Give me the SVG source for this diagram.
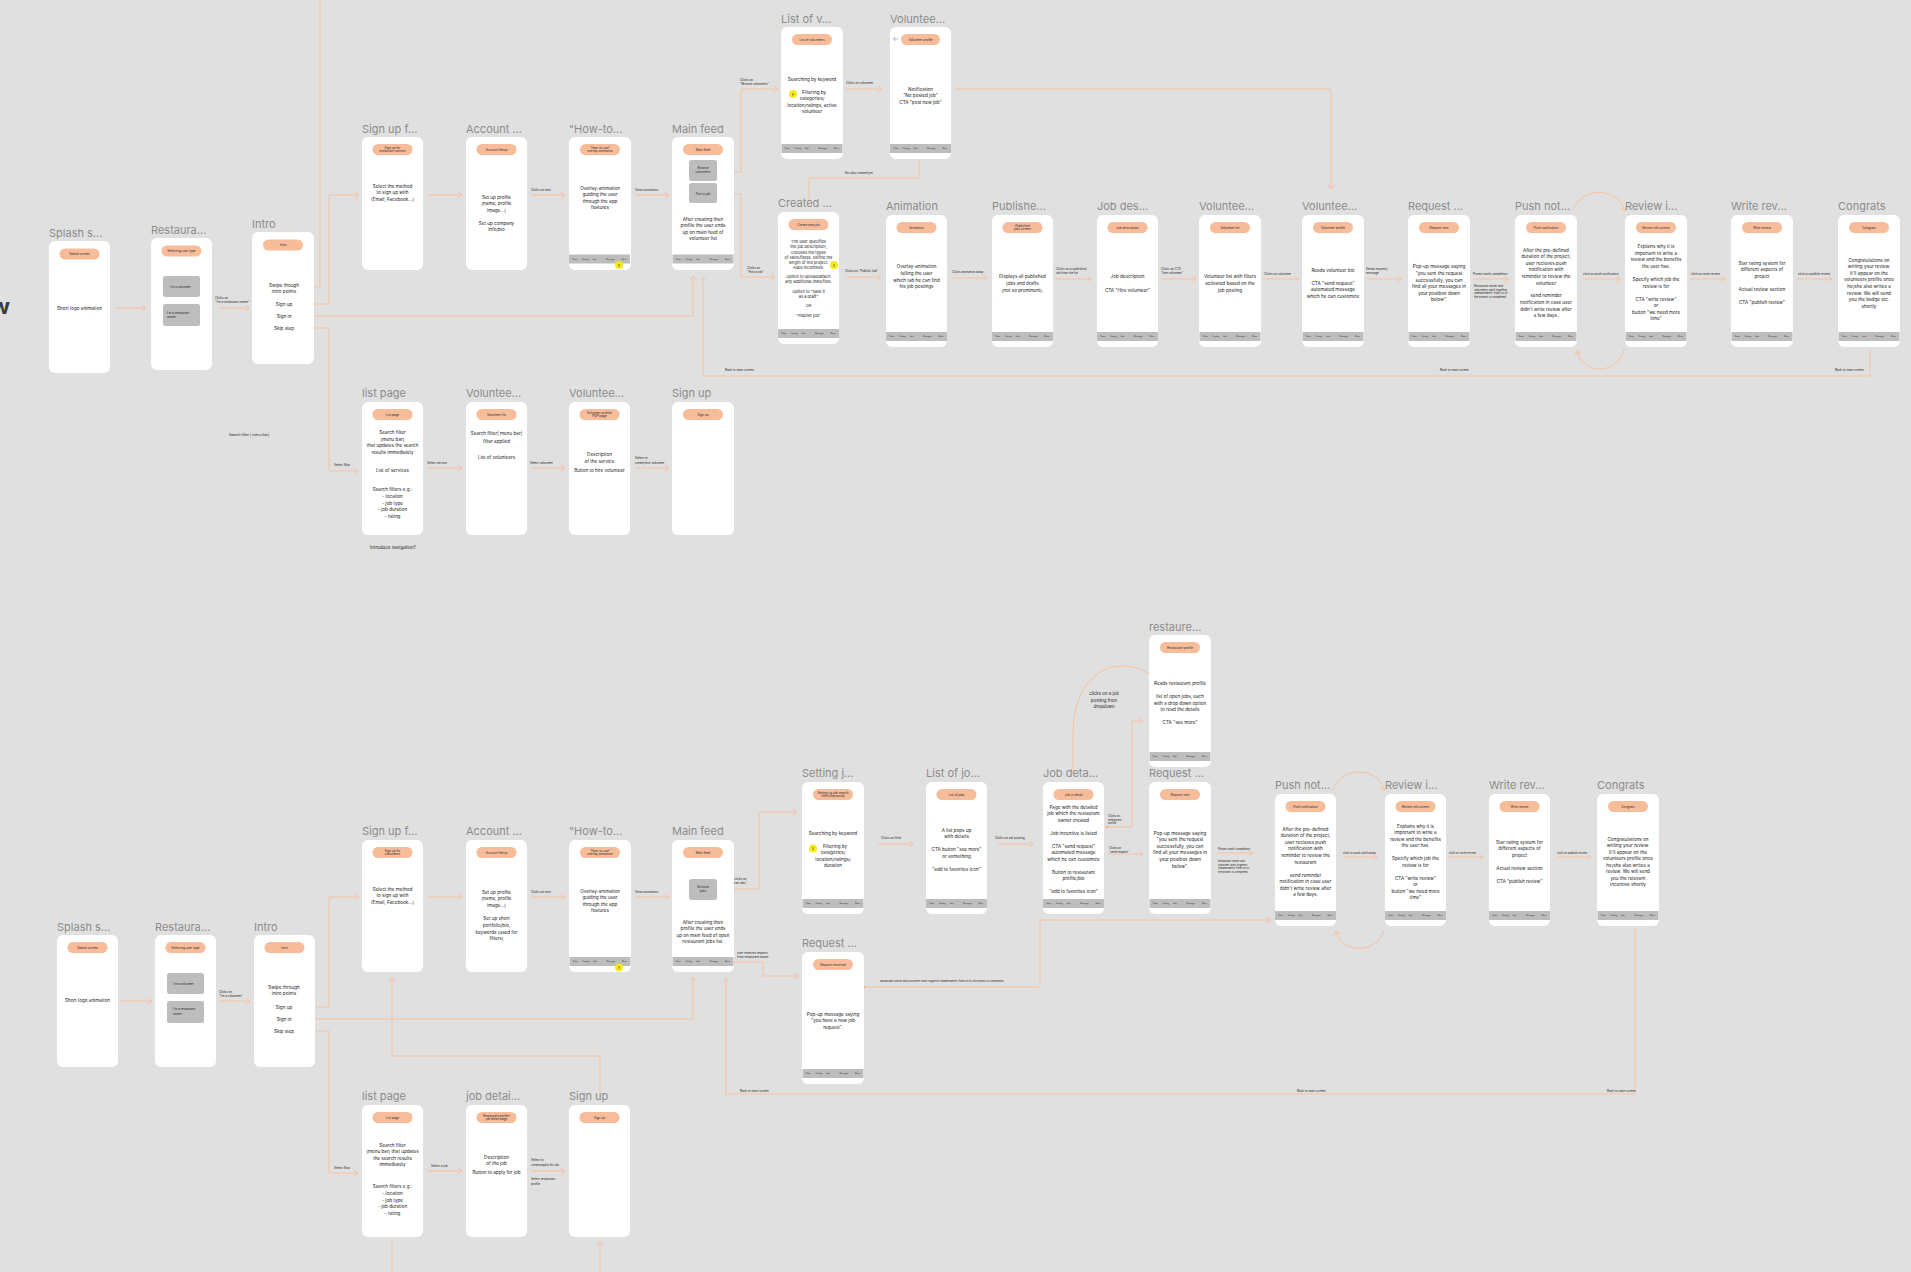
<svg xmlns="http://www.w3.org/2000/svg" xmlns:xlink="http://www.w3.org/1999/xlink" width="1911" height="1272" viewBox="0 0 1911 1272">
<style>
text{font-family:Inter,"Liberation Sans",sans-serif}
.t{font-size:11px;fill:#8c8c8c}
.card{fill:#fff}
.pill{fill:#f7bc99}
.pt{font-size:3.1px;text-anchor:middle;fill:#2a2a2a}
.b{font-size:4.6px;text-anchor:middle;fill:#1a1a1a}
.bs{font-size:4px;text-anchor:middle;fill:#1a1a1a}
.btn{fill:#bdbdbd}
.bt{font-size:3px;fill:#222}
.nav{fill:#bdbdbd}
.nt{font-size:1.8px;fill:#333}
.c{stroke:#f6c2a1;stroke-width:1;fill:none}
.cm{marker-end:url(#ah)}
.dot{fill:#f6b58e}
.l{font-size:3px;fill:#222}
.warn{fill:#f3e91c}
.wt{font-size:4px;font-weight:bold;text-anchor:middle;fill:#333}
</style>
<defs>
<marker id="ah" markerUnits="userSpaceOnUse" markerWidth="6" markerHeight="8" refX="4.5" refY="3.5" orient="auto">
<path d="M0.5,0.5 L4.5,3.5 L0.5,6.5" fill="none" stroke="#f6c2a1" stroke-width="1"/>
</marker>
<g id="navbar">
<rect class="nav" x="0" y="0" width="61" height="9"/>
<text class="nt" x="3" y="5.3">Talent</text>
<text class="nt" x="13" y="5.3">Catalog</text>
<text class="nt" x="23.5" y="5.3">Jobs</text>
<text class="nt" x="37" y="5.3">Messages</text>
<text class="nt" x="52.5" y="5.3">Menu</text>
</g>
<g id="warn">
<circle class="warn" cx="0" cy="0" r="4"/>
<text class="wt" x="0" y="1.5">!</text>
</g>
</defs>

<rect x="0" y="0" width="1911" height="1272" fill="#e0e0e0"/>
<text x="10" y="314" text-anchor="end" style="font-size:22px;font-weight:bold;fill:#3a3a3a">w</text>

<!-- ===== connectors ===== -->
<g id="connectors">
<!-- restaurant owner flow -->
<path class="c cm" d="M114,308 H146"/>
<path class="c cm" d="M218,308 H249"/>
<path class="c" d="M298,287 H320 V0"/>
<path class="c cm" d="M298,304 H329 V195 H359"/>
<path class="c cm" d="M298,316 H693 V276"/>
<path class="c cm" d="M298,328 H329 V471 H358"/>
<path class="c cm" d="M428,195 H462"/>
<path class="c cm" d="M531,195 H565"/>
<path class="c cm" d="M635,195 H669"/>
<path class="c cm" d="M721,172 H741 V89 H778"/>
<path class="c cm" d="M721,194 H741 V277 H775"/>
<path class="c cm" d="M846,89 H882"/>
<path class="c cm" d="M955,89 H1331 V189"/>
<path class="c" d="M919,159 V178 H809 V199"/>
<path class="c cm" d="M846,277 H881"/>
<path class="c cm" d="M952,278 H987"/>
<path class="c cm" d="M1056,279 H1091"/>
<path class="c cm" d="M1161,279 H1196"/>
<path class="c cm" d="M1264,279 H1299"/>
<path class="c cm" d="M1367,279 H1402"/>
<path class="c cm" d="M1473,279 H1508"/>
<path class="c cm" d="M1583,279 H1620"/>
<path class="c cm" d="M1690,279 H1725"/>
<path class="c cm" d="M1797,279 H1832"/>
<path class="c cm" d="M1573,211 C1580,186 1618,186 1625,211"/>
<path class="c cm" d="M1624,350 C1618,375 1582,375 1577,351"/>
<path class="c cm" d="M1870,350 V376 H703 V277"/>
<path class="c cm" d="M427,468 H462"/>
<path class="c cm" d="M530,468 H565"/>
<path class="c cm" d="M634,468 H669"/>
<circle class="dot" cx="298" cy="287" r="1.6"/>
<circle class="dot" cx="298" cy="304" r="1.6"/>
<circle class="dot" cx="298" cy="316" r="1.6"/>
<circle class="dot" cx="298" cy="328" r="1.6"/>
<circle class="dot" cx="721" cy="172" r="1.6"/>
<circle class="dot" cx="721" cy="194" r="1.6"/>

<!-- volunteer flow -->
<path class="c cm" d="M121,1001 H152"/>
<path class="c cm" d="M219,1001 H250"/>
<path class="c cm" d="M298,1007 H329 V897 H359"/>
<path class="c cm" d="M298,1019 H693 V977"/>
<path class="c cm" d="M298,1031 H329 V1173 H358"/>
<path class="c cm" d="M428,897 H462"/>
<path class="c cm" d="M531,897 H565"/>
<path class="c cm" d="M635,897 H669"/>
<path class="c cm" d="M600,1092 V1056 H392 V977"/>
<path class="c" d="M392,1240 V1272"/>
<path class="c cm" d="M600,1272 V1241"/>
<path class="c cm" d="M427,1171 H462"/>
<path class="c cm" d="M531,1171 H565"/>
<path class="c cm" d="M721,889 H759 V812 H797"/>
<path class="c cm" d="M733,962 H763 V976 H798"/>
<path class="c cm" d="M864,987 H1040 V920 H1271"/>
<path class="c cm" d="M878,844 H913"/>
<path class="c cm" d="M998,844 H1033"/>
<path class="c cm" d="M1107,827 H1132 V721 H1143"/>
<path class="c cm" d="M1108,854 H1143"/>
<path class="c" d="M1073,773 V735 C1073,690 1095,666 1122,666 C1137,666 1148,672 1156,680"/>
<path class="c cm" d="M1218,853 H1253"/>
<path class="c cm" d="M1343,857 H1377"/>
<path class="c cm" d="M1449,857 H1483"/>
<path class="c cm" d="M1557,857 H1591"/>
<path class="c cm" d="M1333,790 C1340,766 1378,766 1384,790"/>
<path class="c cm" d="M1384,930 C1378,954 1340,954 1336,931"/>
<path class="c cm" d="M1635,928 V1094 H726 V978"/>
<circle class="dot" cx="298" cy="1007" r="1.6"/>
<circle class="dot" cx="298" cy="1019" r="1.6"/>
<circle class="dot" cx="298" cy="1031" r="1.6"/>
<circle class="dot" cx="721" cy="889" r="1.6"/>
<circle class="dot" cx="733" cy="962" r="1.6"/>
<circle class="dot" cx="864" cy="987" r="1.6"/>
<circle class="dot" cx="1107" cy="827" r="1.6"/>
</g>

<!-- ===== connector labels ===== -->
<g id="labels">
<text class="l" x="215" y="299">Clicks on<tspan x="215" dy="4">"I'm a restaurant owner"</tspan></text>
<text class="l" x="531" y="191">Clicks on next</text>
<text class="l" x="635" y="191">Views animation</text>
<text class="l" x="740" y="81">Clicks on<tspan x="740" dy="4">"Browse volunteers"</tspan></text>
<text class="l" x="846" y="84">Clicks on volunteer</text>
<text class="l" x="845" y="174">No jobs created yet</text>
<text class="l" x="747" y="269">Clicks on<tspan x="747" dy="4">"Post a job"</tspan></text>
<text class="l" x="845" y="272">Clicks on "Publish Job"</text>
<text class="l" x="952" y="273">Clicks animation away</text>
<text class="l" x="1056" y="270">Clicks on a published<tspan x="1056" dy="4">job from the list</tspan></text>
<text class="l" x="1161" y="270">Clicks on CTA<tspan x="1161" dy="4">"hire volunteer"</tspan></text>
<text class="l" x="1264" y="275">Clicks on volunteer</text>
<text class="l" x="1366" y="270">Sends request/<tspan x="1366" dy="4">message</tspan></text>
<text class="l" x="1473" y="275">Project work completion</text>
<text class="l" x="1474" y="287" style="font-size:2.8px">Restaurant owner and<tspan x="1474" dy="3.6">volunteers work together</tspan><tspan x="1474" dy="3.6">independently from us till</tspan><tspan x="1474" dy="3.6">the project is completed.</tspan></text>
<text class="l" x="1583" y="275">click on push notification</text>
<text class="l" x="1691" y="275">click on write review</text>
<text class="l" x="1798" y="275">click on publish review</text>
<text class="l" x="725" y="371">Back to main screen</text>
<text class="l" x="1440" y="371">Back to main screen</text>
<text class="l" x="1835" y="371">Back to main screen</text>
<text class="l" x="229" y="436" style="font-size:3.5px">Search filter | menu bar|</text>
<text class="l" x="334" y="466">Select Skip</text>
<text class="l" x="427" y="464">Select service</text>
<text class="l" x="530" y="464">Select volunteer</text>
<text class="l" x="635" y="459">Select to<tspan x="635" dy="4.5">create/hire volunteer</tspan></text>
<text class="l" x="393" y="549" text-anchor="middle" style="font-size:4.5px">Introduce navigation?</text>

<text class="l" x="219" y="993">Clicks on<tspan x="219" dy="4">"I'm a volunteer"</tspan></text>
<text class="l" x="531" y="893">Clicks on next</text>
<text class="l" x="635" y="893">Views animation</text>
<text class="l" x="727" y="880">user clicks on<tspan x="727" dy="4">"browse jobs"</tspan></text>
<text class="l" x="737" y="954">user receives request<tspan x="737" dy="4">from restaurant owner</tspan></text>
<text class="l" x="881" y="839">Clicks on filter</text>
<text class="l" x="995" y="839">Clicks on job posting</text>
<text class="l" x="1104" y="695" text-anchor="middle" style="font-size:4.4px">clicks on a job<tspan x="1104" dy="6.6">posting from</tspan><tspan x="1104" dy="6.6">dropdown</tspan></text>
<text class="l" x="1108" y="817" style="font-size:2.8px">Clicks on<tspan x="1108" dy="3.6">restaurant</tspan><tspan x="1108" dy="3.6">profile</tspan></text>
<text class="l" x="1109" y="849" style="font-size:2.8px">Clicks on<tspan x="1109" dy="3.6">"send request"</tspan></text>
<text class="l" x="1218" y="850" style="font-size:2.8px">Project work completion</text>
<text class="l" x="1218" y="862" style="font-size:2.6px">Restaurant owner and<tspan x="1218" dy="3.5">volunteer work together</tspan><tspan x="1218" dy="3.5">independently from us till</tspan><tspan x="1218" dy="3.5">the project is completed.</tspan></text>
<text class="l" x="1343" y="854" style="font-size:2.8px">click on push notification</text>
<text class="l" x="1449" y="854" style="font-size:2.8px">click on write review</text>
<text class="l" x="1557" y="854" style="font-size:2.8px">click on publish review</text>
<text class="l" x="880" y="982" style="font-size:2.7px">Restaurant owner and volunteer work together independently from us till the project is completed.</text>
<text class="l" x="740" y="1092">Back to main screen</text>
<text class="l" x="1297" y="1092">Back to main screen</text>
<text class="l" x="1607" y="1092">Back to main screen</text>
<text class="l" x="334" y="1169">Select Skip</text>
<text class="l" x="431" y="1167">Select a job</text>
<text class="l" x="531" y="1161">Select to<tspan x="531" dy="4.5">create/apply for job</tspan></text>
<text class="l" x="531" y="1180">Select restaurant<tspan x="531" dy="4.5">profile</tspan></text>
</g>

<!-- ===== restaurant owner screens ===== -->
<g id="splash-owner">
<rect class="card" x="49" y="241" width="61" height="132" rx="6"/>
<text class="t" x="49" y="237">Splash s...</text>
<rect class="pill" x="59.5" y="248.5" width="40" height="11" rx="5.5"/>
<text class="pt" x="79.5" y="255">Splash screen</text>
<text class="b" x="79.5" y="309.5">Short logo animation</text>
</g>
<g id="usertype-owner">
<rect class="card" x="151" y="238" width="61" height="132" rx="6"/>
<text class="t" x="151" y="234">Restaura...</text>
<rect class="pill" x="161.5" y="245.5" width="40" height="11" rx="5.5"/>
<text class="pt" x="181.5" y="252">Selecting user type</text>
<rect class="btn" x="163" y="276" width="37" height="21" rx="2.5"/>
<text class="bt" x="170" y="288">I'm a volunteer</text>
<rect class="btn" x="163" y="304" width="37" height="22" rx="2.5"/>
<text class="bt" x="167" y="313.5">I'm a restaurant<tspan x="167" dy="4">owner</tspan></text>
</g>
<g id="intro-owner">
<rect class="card" x="252" y="232" width="62" height="132" rx="6"/>
<text class="t" x="252" y="228">Intro</text>
<rect class="pill" x="263" y="239.5" width="40" height="11" rx="5.5"/>
<text class="pt" x="283" y="246">Intro</text>
<text class="b" x="284" y="286.5">Swipe though<tspan x="284" dy="6.3">intro points</tspan></text>
<text class="b" x="284" y="305.5">Sign up</text>
<text class="b" x="284" y="317.5">Sign in</text>
<text class="b" x="284" y="329.5">Skip step</text>
</g>
<g id="signup-owner">
<rect class="card" x="362" y="137" width="61" height="133" rx="6"/>
<text class="t" x="362" y="133">Sign up f...</text>
<rect class="pill" x="372.5" y="144" width="40" height="11" rx="5.5"/>
<text class="pt" x="392.5" y="149">Sign up for<tspan x="392.5" dy="3.4">restaurant owners</tspan></text>
<text class="b" x="392.5" y="187.5">Select the method<tspan x="392.5" dy="6.5">to sign up with</tspan><tspan x="392.5" dy="6.5">(Email, Facebook...)</tspan></text>
</g>
<g id="account-owner">
<rect class="card" x="466" y="137" width="61" height="133" rx="6"/>
<text class="t" x="466" y="133">Account ...</text>
<rect class="pill" x="476.5" y="144" width="40" height="11" rx="5.5"/>
<text class="pt" x="496.5" y="150.5">Account Setup</text>
<text class="b" x="496.5" y="198.5">Set up profile<tspan x="496.5" dy="6.5">(name, profile</tspan><tspan x="496.5" dy="6.5">image...)</tspan><tspan x="496.5" dy="13">Set up company</tspan><tspan x="496.5" dy="6.5">info/bio</tspan></text>
</g>
<g id="howto-owner">
<rect class="card" x="569" y="137" width="62" height="133" rx="6"/>
<text class="t" x="569" y="133">"How-to...</text>
<rect class="pill" x="580" y="144" width="40" height="11" rx="5.5"/>
<text class="pt" x="600" y="149">"How-to-use"<tspan x="600" dy="3.4">overlay animation</tspan></text>
<text class="b" x="600" y="189.5">Overlay-animation<tspan x="600" dy="6.5">guiding the user</tspan><tspan x="600" dy="6.5">through the app</tspan><tspan x="600" dy="6.5">features</tspan></text>
<use href="#navbar" x="569" y="254.5"/>
<use href="#warn" x="619" y="265"/>
</g>
<g id="mainfeed-owner">
<rect class="card" x="672" y="137" width="62" height="133" rx="6"/>
<text class="t" x="672" y="133">Main feed</text>
<rect class="pill" x="683" y="144" width="40" height="11" rx="5.5"/>
<text class="pt" x="703" y="150.5">Main feed</text>
<rect class="btn" x="689" y="160" width="28" height="21" rx="2.5"/>
<text class="pt" x="703" y="168.5">Browse<tspan x="703" dy="4">volunteers</tspan></text>
<rect class="btn" x="689" y="183" width="28" height="20" rx="2.5"/>
<text class="pt" x="703" y="194.5">Post a job</text>
<text class="b" x="703" y="220.5">After creating their<tspan x="703" dy="6.5">profile the user ends</tspan><tspan x="703" dy="6.5">up on main feed of</tspan><tspan x="703" dy="6.5">volunteer list</tspan></text>
<use href="#navbar" x="672.5" y="254.5"/>
</g>
<g id="volunteers-list-owner">
<rect class="card" x="781" y="27" width="62" height="132" rx="6"/>
<text class="t" x="781" y="23">List of v...</text>
<rect class="pill" x="792" y="34" width="40" height="11" rx="5.5"/>
<text class="pt" x="812" y="40.5">List of volunteers</text>
<text class="b" x="812" y="80.5">Searching by keyword</text>
<text class="b" x="814" y="93.5">Filtering by<tspan x="812" dy="6.5">categories/</tspan><tspan x="812" dy="6.5">location/ratings, active</tspan><tspan x="812" dy="6.5">volunteer</tspan></text>
<use href="#warn" x="793" y="94"/>
<use href="#navbar" x="781.5" y="144"/>
</g>
<g id="volunteer-profile-owner">
<rect class="card" x="890" y="27" width="61" height="132" rx="6"/>
<text class="t" x="890" y="23">Voluntee...</text>
<path d="M898,39 H893.5 M895.5,37 L893.5,39 L895.5,41" fill="none" stroke="#8878ee" stroke-width="0.6"/>
<rect class="pill" x="901" y="34" width="39" height="11" rx="5.5"/>
<text class="pt" x="920.5" y="40.5">Volunteer profile</text>
<text class="b" x="920.5" y="90.5">Notification<tspan x="920.5" dy="6.5">"No posted job"</tspan><tspan x="920.5" dy="6.5">CTA "post new job"</tspan></text>
<use href="#navbar" x="890" y="144"/>
</g>
<g id="create-job">
<rect class="card" x="778" y="212" width="61" height="132" rx="6"/>
<text class="t" x="778" y="207">Created ...</text>
<rect class="pill" x="788.5" y="219" width="40" height="11" rx="5.5"/>
<text class="pt" x="808.5" y="225.5">Create new job</text>
<text class="bs" x="808.5" y="243">The user specifies<tspan x="808.5" dy="5.3">the job description,</tspan><tspan x="808.5" dy="5.3">chooses the types</tspan><tspan x="808.5" dy="5.3">of skills/fields. Define the</tspan><tspan x="808.5" dy="4.8">length of the project.</tspan><tspan x="808.5" dy="4.8">Adds incentives.</tspan><tspan x="808.5" dy="9.3">Option to upload/attach</tspan><tspan x="808.5" dy="5.3">any additional links/files.</tspan><tspan x="808.5" dy="9.6">Option  to "save it</tspan><tspan x="808.5" dy="5">as a draft"</tspan><tspan x="808.5" dy="9.7">OR</tspan><tspan x="808.5" dy="10">"Publish job"</tspan></text>
<use href="#warn" x="834" y="265"/>
<use href="#navbar" x="778" y="329"/>
</g>
<g id="animation-owner">
<rect class="card" x="886" y="215" width="61" height="132" rx="6"/>
<text class="t" x="886" y="210">Animation</text>
<rect class="pill" x="896.5" y="222" width="40" height="11" rx="5.5"/>
<text class="pt" x="916.5" y="228.5">Animation</text>
<text class="b" x="916.5" y="268.3">Overlay-animation<tspan x="916.5" dy="6.6">telling the user</tspan><tspan x="916.5" dy="6.6">which tab he can find</tspan><tspan x="916.5" dy="6.6">his job postings</tspan></text>
<use href="#navbar" x="886" y="332"/>
</g>
<g id="published-jobs">
<rect class="card" x="992" y="215" width="61" height="132" rx="6"/>
<text class="t" x="992" y="210">Publishe...</text>
<rect class="pill" x="1002.5" y="222" width="40" height="11" rx="5.5"/>
<text class="pt" x="1022.5" y="227">Published<tspan x="1022.5" dy="3.4">jobs screen</tspan></text>
<text class="b" x="1022.5" y="278.3">Displays all published<tspan x="1022.5" dy="6.6">jobs and drafts</tspan><tspan x="1022.5" dy="6.6">(not so prominent).</tspan></text>
<use href="#navbar" x="992" y="332"/>
</g>
<g id="job-description">
<rect class="card" x="1097" y="215" width="61" height="132" rx="6"/>
<text class="t" x="1097" y="210">Job des...</text>
<rect class="pill" x="1107.5" y="222" width="40" height="11" rx="5.5"/>
<text class="pt" x="1127.5" y="228.5">Job description</text>
<text class="b" x="1127.5" y="278.3">Job description<tspan x="1127.5" dy="13.3">CTA "Hire volunteer"</tspan></text>
<use href="#navbar" x="1097" y="332"/>
</g>
<g id="volunteer-list-owner">
<rect class="card" x="1199" y="215" width="62" height="132" rx="6"/>
<text class="t" x="1199" y="210">Voluntee...</text>
<rect class="pill" x="1210" y="222" width="40" height="11" rx="5.5"/>
<text class="pt" x="1230" y="228.5">Volunteer list</text>
<text class="b" x="1230" y="278.3">Volunteer list with filters<tspan x="1230" dy="6.6">activated based on the</tspan><tspan x="1230" dy="6.6">job posting</tspan></text>
<use href="#navbar" x="1199.5" y="332"/>
</g>
<g id="volunteer-bio-owner">
<rect class="card" x="1302" y="215" width="62" height="132" rx="6"/>
<text class="t" x="1302" y="210">Voluntee...</text>
<rect class="pill" x="1313" y="222" width="40" height="11" rx="5.5"/>
<text class="pt" x="1333" y="228.5">Volunteer profile</text>
<text class="b" x="1333" y="271.5">Reads volunteer bio<tspan x="1333" dy="13.3">CTA "send request"</tspan><tspan x="1333" dy="6.6">automated message</tspan><tspan x="1333" dy="6.6">which he can customize</tspan></text>
<use href="#navbar" x="1302.5" y="332"/>
</g>
<g id="request-sent-owner">
<rect class="card" x="1408" y="215" width="62" height="132" rx="6"/>
<text class="t" x="1408" y="210">Request ...</text>
<rect class="pill" x="1419" y="222" width="40" height="11" rx="5.5"/>
<text class="pt" x="1439" y="228.5">Request sent</text>
<text class="b" x="1439" y="268.3">Pop-up message saying<tspan x="1439" dy="6.6">"you sent the request</tspan><tspan x="1439" dy="6.6">successfully, you can</tspan><tspan x="1439" dy="6.6">find all your messages in</tspan><tspan x="1439" dy="6.6">your postbox down</tspan><tspan x="1439" dy="6.6">below".</tspan></text>
<use href="#navbar" x="1408.5" y="332"/>
</g>
<g id="push-owner">
<rect class="card" x="1515" y="215" width="62" height="132" rx="6"/>
<text class="t" x="1515" y="210">Push not...</text>
<rect class="pill" x="1526" y="222" width="40" height="11" rx="5.5"/>
<text class="pt" x="1546" y="228.5">Push notification</text>
<text class="b" x="1546" y="251.5">After the pre-defined<tspan x="1546" dy="6.6">duration of the project,</tspan><tspan x="1546" dy="6.6">user recieves push</tspan><tspan x="1546" dy="6.6">notification with</tspan><tspan x="1546" dy="6.6">reminder to review the</tspan><tspan x="1546" dy="6.6">volunteer</tspan><tspan x="1546" dy="12.8">send reminder</tspan><tspan x="1546" dy="6.6">notification in case user</tspan><tspan x="1546" dy="6.6">didn't write review after</tspan><tspan x="1546" dy="6.6">a few days.</tspan></text>
<use href="#navbar" x="1515.5" y="332"/>
</g>
<g id="review-info-owner">
<rect class="card" x="1625" y="215" width="62" height="132" rx="6"/>
<text class="t" x="1625" y="210">Review i...</text>
<rect class="pill" x="1636" y="222" width="40" height="11" rx="5.5"/>
<text class="pt" x="1656" y="228.5">Review info screen</text>
<text class="b" x="1656" y="248.2">Explains why it is<tspan x="1656" dy="6.6">important to write a</tspan><tspan x="1656" dy="6.6">review and the benefits</tspan><tspan x="1656" dy="6.6">the user has.</tspan><tspan x="1656" dy="13.3">Specify which job the</tspan><tspan x="1656" dy="6.6">review is for</tspan><tspan x="1656" dy="12.7">CTA "write review"</tspan><tspan x="1656" dy="6.6">or</tspan><tspan x="1656" dy="6.6">button "we need more</tspan><tspan x="1656" dy="6.6">time"</tspan></text>
<use href="#navbar" x="1625.5" y="332"/>
</g>
<g id="write-review-owner">
<rect class="card" x="1731" y="215" width="62" height="132" rx="6"/>
<text class="t" x="1731" y="210">Write rev...</text>
<rect class="pill" x="1742" y="222" width="40" height="11" rx="5.5"/>
<text class="pt" x="1762" y="228.5">Write review</text>
<text class="b" x="1762" y="264.8">Star rating system for<tspan x="1762" dy="6.6">different aspects of</tspan><tspan x="1762" dy="6.6">project</tspan><tspan x="1762" dy="13.3">Actual review section</tspan><tspan x="1762" dy="12.7">CTA "publish review"</tspan></text>
<use href="#navbar" x="1731.5" y="332"/>
</g>
<g id="congrats-owner">
<rect class="card" x="1838" y="215" width="62" height="132" rx="6"/>
<text class="t" x="1838" y="210">Congrats</text>
<rect class="pill" x="1849" y="222" width="40" height="11" rx="5.5"/>
<text class="pt" x="1869" y="228.5">Congrats</text>
<text class="b" x="1869" y="261.5">Congratulations on<tspan x="1869" dy="6.6">writing your review.</tspan><tspan x="1869" dy="6.6">It'll appear on the</tspan><tspan x="1869" dy="6.6">volunteers profile once</tspan><tspan x="1869" dy="6.6">he/she also writes a</tspan><tspan x="1869" dy="6.6">review. We will send</tspan><tspan x="1869" dy="6.6">you the badge etc.</tspan><tspan x="1869" dy="6.6">shortly</tspan></text>
<use href="#navbar" x="1838.5" y="332"/>
</g>
<g id="listpage-owner">
<rect class="card" x="362" y="402" width="61" height="133" rx="6"/>
<text class="t" x="362" y="397">list page</text>
<rect class="pill" x="372.5" y="409" width="40" height="11" rx="5.5"/>
<text class="pt" x="392.5" y="415.5">List page</text>
<text class="b" x="392.5" y="434.2">Search filter<tspan x="392.5" dy="6.6">(menu bar)</tspan><tspan x="392.5" dy="6.6">that updates the search</tspan><tspan x="392.5" dy="6.6">results immediately</tspan><tspan x="392.5" dy="18">List of services</tspan><tspan x="392.5" dy="19.3">Search filters e.g.:</tspan><tspan x="392.5" dy="6.6">- location</tspan><tspan x="392.5" dy="6.6">- job type</tspan><tspan x="392.5" dy="6.6">- job duration</tspan><tspan x="392.5" dy="6.4">- rating</tspan></text>
</g>
<g id="volunteer-list-guest">
<rect class="card" x="466" y="402" width="61" height="133" rx="6"/>
<text class="t" x="466" y="397">Voluntee...</text>
<rect class="pill" x="476.5" y="409" width="40" height="11" rx="5.5"/>
<text class="pt" x="496.5" y="415.5">Volunteer list</text>
<text class="b" x="496.5" y="435.2">Search filter| menu bar|<tspan x="496.5" dy="7.5">filter applied</tspan><tspan x="496.5" dy="16.4">List of volunteers</tspan></text>
</g>
<g id="volunteer-profile-guest">
<rect class="card" x="569" y="402" width="61" height="133" rx="6"/>
<text class="t" x="569" y="397">Voluntee...</text>
<rect class="pill" x="579.5" y="409" width="40" height="11" rx="5.5"/>
<text class="pt" x="599.5" y="414">Volunteer profile/<tspan x="599.5" dy="3.4">PDP page</tspan></text>
<text class="b" x="599.5" y="455.5">Description<tspan x="599.5" dy="7">of the service</tspan><tspan x="599.5" dy="9">Button to hire volunteer</tspan></text>
</g>
<g id="signup-guest-owner">
<rect class="card" x="672" y="402" width="62" height="133" rx="6"/>
<text class="t" x="672" y="397">Sign up</text>
<rect class="pill" x="683" y="409" width="40" height="11" rx="5.5"/>
<text class="pt" x="703" y="415.5">Sign up</text>
</g>

<!-- ===== volunteer screens ===== -->
<g id="splash-volunteer">
<rect class="card" x="57" y="935" width="61" height="132" rx="6"/>
<text class="t" x="57" y="931">Splash s...</text>
<rect class="pill" x="67.5" y="942" width="40" height="11" rx="5.5"/>
<text class="pt" x="87.5" y="948.5">Splash screen</text>
<text class="b" x="87.5" y="1002.2">Short logo animation</text>
</g>
<g id="usertype-volunteer">
<rect class="card" x="155" y="935" width="61" height="132" rx="6"/>
<text class="t" x="155" y="931">Restaura...</text>
<rect class="pill" x="165.5" y="942" width="40" height="11" rx="5.5"/>
<text class="pt" x="185.5" y="948.5">Selecting user type</text>
<rect class="btn" x="167" y="973" width="37" height="21" rx="2.5"/>
<text class="bt" x="173" y="985">I'm a volunteer</text>
<rect class="btn" x="167" y="1001" width="37" height="22" rx="2.5"/>
<text class="bt" x="173" y="1010">I'm a restaurant<tspan x="173" dy="4.5">owner</tspan></text>
</g>
<g id="intro-volunteer">
<rect class="card" x="254" y="935" width="61" height="132" rx="6"/>
<text class="t" x="254" y="931">Intro</text>
<rect class="pill" x="264.5" y="942" width="40" height="11" rx="5.5"/>
<text class="pt" x="284.5" y="948.5">Intro</text>
<text class="b" x="284" y="988.5">Swipe through<tspan x="284" dy="6.7">intro points</tspan></text>
<text class="b" x="284" y="1008.5">Sign up</text>
<text class="b" x="284" y="1020.5">Sign in</text>
<text class="b" x="284" y="1032.5">Skip step</text>
</g>
<g id="signup-volunteer">
<rect class="card" x="362" y="840" width="61" height="132" rx="6"/>
<text class="t" x="362" y="835">Sign up f...</text>
<rect class="pill" x="372.5" y="847" width="40" height="11" rx="5.5"/>
<text class="pt" x="392.5" y="852">Sign up for<tspan x="392.5" dy="3.4">volunteers</tspan></text>
<text class="b" x="392.5" y="890.5">Select the method<tspan x="392.5" dy="6.5">to sign up with</tspan><tspan x="392.5" dy="6.5">(Email, Facebook...)</tspan></text>
</g>
<g id="account-volunteer">
<rect class="card" x="466" y="840" width="61" height="132" rx="6"/>
<text class="t" x="466" y="835">Account ...</text>
<rect class="pill" x="476.5" y="847" width="40" height="11" rx="5.5"/>
<text class="pt" x="496.5" y="853.5">Account Setup</text>
<text class="b" x="496.5" y="893.8">Set up profile<tspan x="496.5" dy="6.6">(name, profile</tspan><tspan x="496.5" dy="6.6">image...)</tspan><tspan x="496.5" dy="13.3">Set up short</tspan><tspan x="496.5" dy="6.6">portfolio/bio,</tspan><tspan x="496.5" dy="6.6">keywords (used for</tspan><tspan x="496.5" dy="6.2">filters)</tspan></text>
</g>
<g id="howto-volunteer">
<rect class="card" x="569" y="840" width="62" height="132" rx="6"/>
<text class="t" x="569" y="835">"How-to...</text>
<rect class="pill" x="580" y="847" width="40" height="11" rx="5.5"/>
<text class="pt" x="600" y="852">"How-to-use"<tspan x="600" dy="3.4">overlay animation</tspan></text>
<text class="b" x="600" y="892.5">Overlay-animation<tspan x="600" dy="6.6">guiding the user</tspan><tspan x="600" dy="6.6">through the app</tspan><tspan x="600" dy="6.6">features</tspan></text>
<use href="#navbar" x="569.5" y="957"/>
<use href="#warn" x="619" y="967.5"/>
</g>
<g id="mainfeed-volunteer">
<rect class="card" x="672" y="840" width="62" height="132" rx="6"/>
<text class="t" x="672" y="835">Main feed</text>
<rect class="pill" x="683" y="847" width="40" height="11" rx="5.5"/>
<text class="pt" x="703" y="853.5">Main feed</text>
<rect class="btn" x="689" y="879" width="28" height="21" rx="2.5"/>
<text class="pt" x="703" y="888" style="font-size:3.3px">Browse<tspan x="703" dy="4.3">jobs</tspan></text>
<text class="b" x="703" y="923.5">After creating their<tspan x="703" dy="6.6">profile the user ends</tspan><tspan x="703" dy="6.6">up on main feed of open</tspan><tspan x="703" dy="6.6">restaurant jobs list.</tspan></text>
<use href="#navbar" x="672.5" y="957"/>
</g>
<g id="job-search">
<rect class="card" x="802" y="782" width="62" height="132" rx="6"/>
<text class="t" x="802" y="777">Setting j...</text>
<rect class="pill" x="813" y="789" width="40" height="11" rx="5.5"/>
<text class="pt" x="833" y="794">Setting up job search<tspan x="833" dy="3.4">filters/keywords</tspan></text>
<text class="b" x="833" y="834.5">Searching by keyword</text>
<text class="b" x="835" y="847.8">Filtering by<tspan x="833" dy="6.5">categories/</tspan><tspan x="833" dy="6.5">location/ratings/</tspan><tspan x="833" dy="6.6">duration</tspan></text>
<use href="#warn" x="813" y="848.5"/>
<use href="#navbar" x="802.5" y="899"/>
</g>
<g id="job-list">
<rect class="card" x="926" y="782" width="61" height="132" rx="6"/>
<text class="t" x="926" y="777">List of jo...</text>
<rect class="pill" x="936.5" y="789" width="40" height="11" rx="5.5"/>
<text class="pt" x="956.5" y="795.5">List of jobs</text>
<text class="b" x="956.5" y="831.5">A list pops up<tspan x="956.5" dy="6.6">with details</tspan><tspan x="956.5" dy="13">CTA button "see more"</tspan><tspan x="956.5" dy="6.4">or something</tspan><tspan x="956.5" dy="13">"add to favorites icon"</tspan></text>
<use href="#navbar" x="926" y="899"/>
</g>
<g id="job-detail">
<rect class="card" x="1043" y="782" width="61" height="132" rx="6"/>
<text class="t" x="1043" y="777">Job deta...</text>
<rect class="pill" x="1053.5" y="789" width="40" height="11" rx="5.5"/>
<text class="pt" x="1073.5" y="795.5">Job in detail</text>
<text class="b" x="1073.5" y="808.5">Page with the detailed<tspan x="1073.5" dy="6.6">job which the restaurant</tspan><tspan x="1073.5" dy="6.6">owner created</tspan><tspan x="1073.5" dy="12.8">Job incentive is listed</tspan><tspan x="1073.5" dy="13">CTA "send request"</tspan><tspan x="1073.5" dy="6.6">automated message</tspan><tspan x="1073.5" dy="6.6">which he can customize</tspan><tspan x="1073.5" dy="13.3">Button to restaurant</tspan><tspan x="1073.5" dy="6.4">profile/bio</tspan><tspan x="1073.5" dy="13">"add to favorites icon"</tspan></text>
<use href="#navbar" x="1043" y="899"/>
</g>
<g id="restaurant-profile">
<rect class="card" x="1149" y="635" width="62" height="132" rx="6"/>
<text class="t" x="1149" y="631">restaure...</text>
<rect class="pill" x="1160" y="642" width="40" height="11" rx="5.5"/>
<text class="pt" x="1180" y="648.5">Restaurant profile</text>
<text class="b" x="1180" y="684.5">Reads restaurant profile<tspan x="1180" dy="13.3">list of open jobs, each</tspan><tspan x="1180" dy="6.7">with a drop down option</tspan><tspan x="1180" dy="6.7">to read the details</tspan><tspan x="1180" dy="13">CTA "see more"</tspan></text>
<use href="#navbar" x="1149.5" y="752"/>
</g>
<g id="request-sent-volunteer">
<rect class="card" x="1149" y="782" width="62" height="132" rx="6"/>
<text class="t" x="1149" y="777">Request ...</text>
<rect class="pill" x="1160" y="789" width="40" height="11" rx="5.5"/>
<text class="pt" x="1180" y="795.5">Request sent</text>
<text class="b" x="1180" y="834.5">Pop-up message saying<tspan x="1180" dy="6.6">"you sent the request</tspan><tspan x="1180" dy="6.6">successfully, you can</tspan><tspan x="1180" dy="6.6">find all your messages in</tspan><tspan x="1180" dy="6.6">your postbox down</tspan><tspan x="1180" dy="6.6">below".</tspan></text>
<use href="#navbar" x="1149.5" y="899"/>
</g>
<g id="push-volunteer">
<rect class="card" x="1275" y="794" width="61" height="132" rx="6"/>
<text class="t" x="1275" y="789">Push not...</text>
<rect class="pill" x="1285.5" y="801" width="40" height="11" rx="5.5"/>
<text class="pt" x="1305.5" y="807.5">Push notification</text>
<text class="b" x="1305.5" y="830.5">After the pre-defined<tspan x="1305.5" dy="6.6">duration of the project,</tspan><tspan x="1305.5" dy="6.6">user recieves push</tspan><tspan x="1305.5" dy="6.6">notification with</tspan><tspan x="1305.5" dy="6.6">reminder to review the</tspan><tspan x="1305.5" dy="6.6">restaurant</tspan><tspan x="1305.5" dy="13">send reminder</tspan><tspan x="1305.5" dy="6.6">notification in case user</tspan><tspan x="1305.5" dy="6.6">didn't write review after</tspan><tspan x="1305.5" dy="6.6">a few days.</tspan></text>
<use href="#navbar" x="1275" y="911"/>
</g>
<g id="review-info-volunteer">
<rect class="card" x="1385" y="794" width="61" height="132" rx="6"/>
<text class="t" x="1385" y="789">Review i...</text>
<rect class="pill" x="1395.5" y="801" width="40" height="11" rx="5.5"/>
<text class="pt" x="1415.5" y="807.5">Review info screen</text>
<text class="b" x="1415.5" y="827.5">Explains why it is<tspan x="1415.5" dy="6.5">important to write a</tspan><tspan x="1415.5" dy="6.5">review and the benefits</tspan><tspan x="1415.5" dy="6.5">the user has.</tspan><tspan x="1415.5" dy="13">Specify which job the</tspan><tspan x="1415.5" dy="6.5">review is for</tspan><tspan x="1415.5" dy="13.3">CTA "write review"</tspan><tspan x="1415.5" dy="6.6">or</tspan><tspan x="1415.5" dy="6.4">button "we need more</tspan><tspan x="1415.5" dy="6.6">time"</tspan></text>
<use href="#navbar" x="1385" y="911"/>
</g>
<g id="write-review-volunteer">
<rect class="card" x="1489" y="794" width="61" height="132" rx="6"/>
<text class="t" x="1489" y="789">Write rev...</text>
<rect class="pill" x="1499.5" y="801" width="40" height="11" rx="5.5"/>
<text class="pt" x="1519.5" y="807.5">Write review</text>
<text class="b" x="1519.5" y="843.5">Star rating system for<tspan x="1519.5" dy="6.6">different aspects of</tspan><tspan x="1519.5" dy="6.6">project</tspan><tspan x="1519.5" dy="13">Actual review section</tspan><tspan x="1519.5" dy="13.4">CTA "publish review"</tspan></text>
<use href="#navbar" x="1489" y="911"/>
</g>
<g id="congrats-volunteer">
<rect class="card" x="1597" y="794" width="62" height="132" rx="6"/>
<text class="t" x="1597" y="789">Congrats</text>
<rect class="pill" x="1608" y="801" width="40" height="11" rx="5.5"/>
<text class="pt" x="1628" y="807.5">Congrats</text>
<text class="b" x="1628" y="840.5">Congratulations on<tspan x="1628" dy="6.6">writing your review.</tspan><tspan x="1628" dy="6.4">It'll appear on the</tspan><tspan x="1628" dy="6.6">volunteers profile once</tspan><tspan x="1628" dy="6.6">he/she also writes a</tspan><tspan x="1628" dy="6.4">review. We will send</tspan><tspan x="1628" dy="6.6">you the relevant</tspan><tspan x="1628" dy="6.6">incentive shortly</tspan></text>
<use href="#navbar" x="1597.5" y="911"/>
</g>
<g id="request-received">
<rect class="card" x="802" y="952" width="62" height="132" rx="6"/>
<text class="t" x="802" y="947">Request ...</text>
<rect class="pill" x="813" y="959" width="40" height="11" rx="5.5"/>
<text class="pt" x="833" y="965.5">Request received</text>
<text class="b" x="833" y="1015.8">Pop-up message saying<tspan x="833" dy="6.4">"you have a new job</tspan><tspan x="833" dy="6.4">request".</tspan></text>
<use href="#navbar" x="802.5" y="1069"/>
</g>
<g id="listpage-volunteer">
<rect class="card" x="362" y="1105" width="61" height="132" rx="6"/>
<text class="t" x="362" y="1100">list page</text>
<rect class="pill" x="372.5" y="1112" width="40" height="11" rx="5.5"/>
<text class="pt" x="392.5" y="1118.5">List page</text>
<text class="b" x="392.5" y="1146.5">Search filter<tspan x="392.5" dy="6.6">(menu bar) that updates</tspan><tspan x="392.5" dy="6.6">the search results</tspan><tspan x="392.5" dy="6.4">immediately</tspan><tspan x="392.5" dy="22.3">Search filters e.g.:</tspan><tspan x="392.5" dy="6.7">- location</tspan><tspan x="392.5" dy="6.6">- job type</tspan><tspan x="392.5" dy="6.7">- job duration</tspan><tspan x="392.5" dy="6.3">- rating</tspan></text>
</g>
<g id="job-detail-guest">
<rect class="card" x="466" y="1105" width="61" height="132" rx="6"/>
<text class="t" x="466" y="1100">job detai...</text>
<rect class="pill" x="476.5" y="1112" width="40" height="11" rx="5.5"/>
<text class="pt" x="496.5" y="1117">Restaurant profile/<tspan x="496.5" dy="3.4">job detail page</tspan></text>
<text class="b" x="496.5" y="1158.5">Description<tspan x="496.5" dy="6.7">of the job</tspan><tspan x="496.5" dy="9">Button to apply for job</tspan></text>
</g>
<g id="signup-guest-volunteer">
<rect class="card" x="569" y="1105" width="61" height="132" rx="6"/>
<text class="t" x="569" y="1100">Sign up</text>
<rect class="pill" x="579.5" y="1112" width="40" height="11" rx="5.5"/>
<text class="pt" x="599.5" y="1118.5">Sign up</text>
</g>
</svg>
